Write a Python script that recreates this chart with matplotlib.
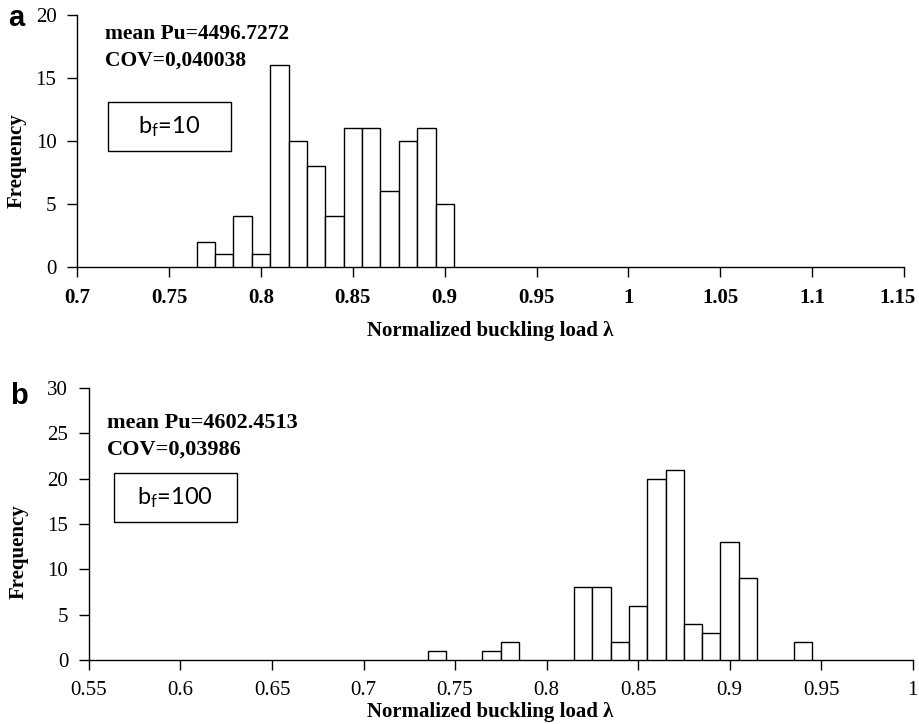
import numpy as np
import matplotlib
matplotlib.use("Agg")
import matplotlib.pyplot as plt
import matplotlib.transforms as mtransforms
from matplotlib.patches import Rectangle
from matplotlib.ticker import FuncFormatter

# histogram data, bin width 0.01
a_centers = [0.77, 0.78, 0.79, 0.80, 0.81, 0.82, 0.83, 0.84, 0.85, 0.86, 0.87, 0.88, 0.89, 0.90]
a_counts = [2, 1, 4, 1, 16, 10, 8, 4, 11, 11, 6, 10, 11, 5]
a_xticks = [0.7, 0.75, 0.8, 0.85, 0.9, 0.95, 1.0, 1.05, 1.1, 1.15]
a_yticks = [0, 5, 10, 15, 20]

b_centers = [0.74, 0.77, 0.78, 0.82, 0.83, 0.84, 0.85, 0.86, 0.87, 0.88, 0.89, 0.90, 0.91, 0.94]
b_counts = [1, 1, 2, 8, 8, 2, 6, 20, 21, 4, 3, 13, 9, 2]
b_xticks = [0.55, 0.6, 0.65, 0.7, 0.75, 0.8, 0.85, 0.9, 0.95, 1.0]
b_yticks = [0, 5, 10, 15, 20, 25, 30]

bin_w = 0.01
serif = "Liberation Serif"
plt.rcParams["mathtext.default"] = "regular"

fig = plt.figure(figsize=(9.2, 7.24), dpi=100)
ax_a = fig.add_axes([0.084, 0.6316, 0.8986, 0.3477])
ax_b = fig.add_axes([0.0967, 0.0884, 0.8953, 0.3757])

fmt = FuncFormatter(lambda v, p: f"{v:g}")


def style_axis(ax, xticks, yticks, xbold):
    for s in ["top", "right"]:
        ax.spines[s].set_visible(False)
    for s in ["left", "bottom"]:
        ax.spines[s].set_linewidth(1.0)
    ax.set_xlim(xticks[0], xticks[-1])
    ax.set_ylim(yticks[0], yticks[-1])
    ax.set_xticks(xticks)
    ax.set_yticks(yticks)
    ax.xaxis.set_major_formatter(fmt)
    ax.tick_params(direction="out", length=7, width=1.0, pad=8)
    for lab in ax.get_xticklabels():
        lab.set_fontfamily(serif)
        lab.set_fontsize(15)
        lab.set_fontweight("bold" if xbold else "normal")
    for lab in ax.get_yticklabels():
        lab.set_fontfamily(serif)
        lab.set_fontsize(15)


# panel a
ax_a.bar(a_centers, a_counts, width=bin_w, color="white", edgecolor="black", linewidth=1.0, zorder=3)
style_axis(ax_a, a_xticks, a_yticks, True)
# last tick label sits at the right edge, nudge it inward a little
last = ax_a.get_xticklabels()[-1]
last.set_transform(last.get_transform() + mtransforms.ScaledTranslation(-5 / 72, 0, fig.dpi_scale_trans))
ax_a.set_xlabel("Normalized buckling load λ", fontfamily=serif, fontweight="bold", fontsize=15)
ax_a.xaxis.set_label_coords(0.5, -0.215)
ax_a.set_ylabel("Frequency", fontfamily=serif, fontweight="bold", fontsize=15)
ax_a.yaxis.set_label_coords(-0.061, 0.42)
ax_a.text(0.0335, 0.925, "mean Pu=4496.7272", transform=ax_a.transAxes, fontfamily=serif,
          fontweight="bold", fontsize=15.5, va="center", ha="left")
ax_a.text(0.0335, 0.818, "COV=0,040038", transform=ax_a.transAxes, fontfamily=serif,
          fontweight="bold", fontsize=15.5, va="center", ha="left")
ax_a.add_patch(Rectangle((0.0371, 0.4597), 0.1488, 0.1947, transform=ax_a.transAxes,
                         facecolor="white", edgecolor="black", linewidth=1.0, zorder=4))
ax_a.text(0.111, 0.557, "b$_f$=10", transform=ax_a.transAxes, fontfamily="Lato",
          fontsize=17, ha="center", va="center", zorder=5)

# panel b
ax_b.bar(b_centers, b_counts, width=bin_w, color="white", edgecolor="black", linewidth=1.0, zorder=3)
style_axis(ax_b, b_xticks, b_yticks, False)
ax_b.set_xlabel("Normalized buckling load λ", fontfamily=serif, fontweight="bold", fontsize=15)
ax_b.xaxis.set_label_coords(0.487, -0.155)
ax_b.set_ylabel("Frequency", fontfamily=serif, fontweight="bold", fontsize=15)
ax_b.yaxis.set_label_coords(-0.073, 0.398)
ax_b.text(0.022, 0.872, "mean Pu=4602.4513", transform=ax_b.transAxes, fontfamily=serif,
          fontweight="bold", fontsize=16, va="center", ha="left")
ax_b.text(0.022, 0.772, "COV=0,03986", transform=ax_b.transAxes, fontfamily=serif,
          fontweight="bold", fontsize=16, va="center", ha="left")
ax_b.add_patch(Rectangle((0.0304, 0.5085), 0.1493, 0.1779, transform=ax_b.transAxes,
                         facecolor="white", edgecolor="black", linewidth=1.0, zorder=4))
ax_b.text(0.105, 0.597, "b$_f$=100", transform=ax_b.transAxes, fontfamily="Lato",
          fontsize=17, ha="center", va="center", zorder=5)

# panel letters
fig.text(8 / 920, 1 - 18 / 724, "a", fontfamily="Liberation Sans", fontweight="bold",
         fontsize=21, ha="left", va="center")
fig.text(10 / 920, 1 - 396 / 724, "b", fontfamily="Liberation Sans", fontweight="bold",
         fontsize=21, ha="left", va="center")

fig.savefig("out.png", dpi=100)
plt.close("all")
